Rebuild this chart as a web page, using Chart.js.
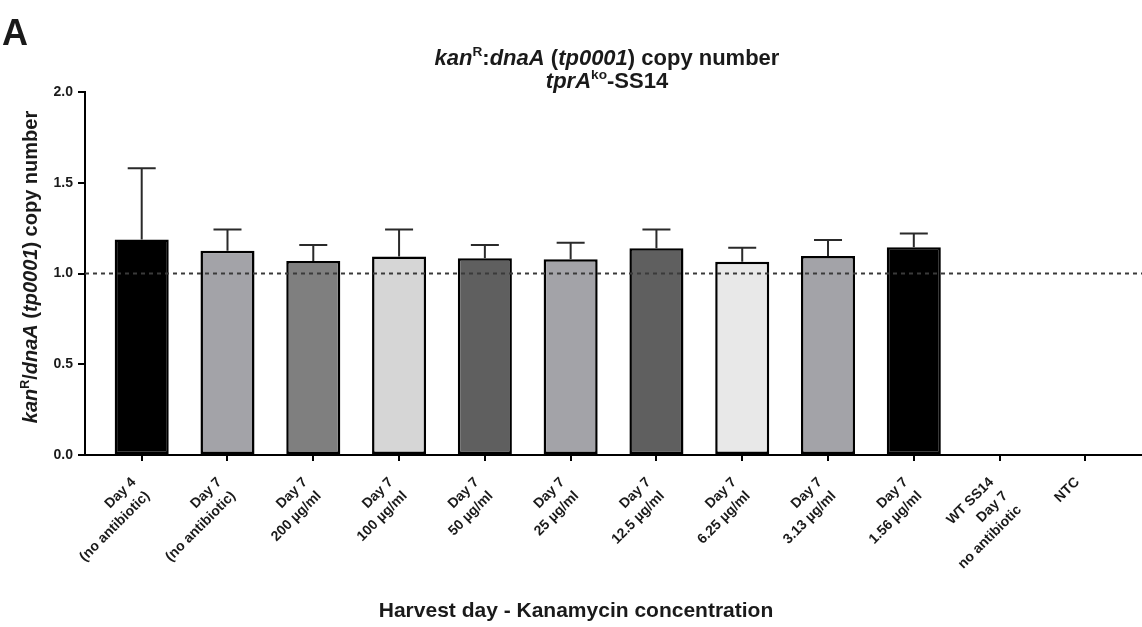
<!DOCTYPE html>
<html>
<head>
<meta charset="utf-8">
<script src="https://cdn.jsdelivr.net/npm/chart.js@4.4.1/dist/chart.umd.min.js"></script>
<style>
    html, body { margin: 0; padding: 0; background: #fff; }
    #wrap { position: relative; width: 1142px; height: 627px; font-family: "Liberation Sans", Arial, sans-serif; color: #1a1a1a; overflow: hidden; }
    #chart { position: absolute; left: 0; top: 0; }
    .txt { position: absolute; font-weight: bold; white-space: nowrap; line-height: 1; }
    .txt sup { font-size: 0.62em; font-style: normal; position: relative; top: -0.1em; }
    #panel { left: 2px; top: 15px; font-size: 36px; }
    #title1 { left: 607px; top: 46px; font-size: 22px; transform: translateX(-50%); }
    #title2 { left: 607px; top: 69px; font-size: 22px; transform: translateX(-50%); }
    #ytitle { left: 30px; top: 267px; font-size: 20px; transform: translate(-50%, -50%) rotate(-90deg); }
    #xtitle { left: 576px; top: 599px; font-size: 21px; transform: translateX(-50%); }
</style>
</head>
<body>
<div id="wrap">
    <canvas id="chart" width="1142" height="627"></canvas>
    <div class="txt" id="panel">A</div>
    <div class="txt" id="title1"><i>kan</i><sup>R</sup>:<i>dnaA</i> (<i>tp0001</i>) copy number</div>
    <div class="txt" id="title2"><i>tprA</i><sup>ko</sup>-SS14</div>
    <div class="txt" id="ytitle"><i>kan</i><sup>R</sup>/<i>dnaA</i> (<i>tp0001</i>) copy number</div>
    <div class="txt" id="xtitle">Harvest day - Kanamycin concentration</div>
</div>
<script>
// groups on the x axis (each entry = lines of the tick label)
const groupLabels = [
    ["Day 4", "(no antibiotic)"],
    ["Day 7", "(no antibiotic)"],
    ["Day 7", "200 µg/ml"],
    ["Day 7", "100 µg/ml"],
    ["Day 7", "50 µg/ml"],
    ["Day 7", "25 µg/ml"],
    ["Day 7", "12.5 µg/ml"],
    ["Day 7", "6.25 µg/ml"],
    ["Day 7", "3.13 µg/ml"],
    ["Day 7", "1.56 µg/ml"],
    ["WT SS14", "Day 7", "no antibiotic"],
    ["NTC"]
];
// mean copy number and upper error (SD)
const copyNumber = [1.188, 1.126, 1.069, 1.093, 1.084, 1.078, 1.139, 1.065, 1.096, 1.144, null, null];
const errorUp    = [0.392, 0.117, 0.088, 0.150, 0.073, 0.092, 0.104, 0.077, 0.089, 0.077, null, null];
const barFills = ['#000000', '#a3a3a8', '#7f7f7f', '#d6d6d6', '#5f5f5f', '#a3a3a8', '#5f5f5f', '#e8e8e8', '#a3a3a8', '#000000', '#ffffff', '#ffffff'];
const yTickValues = [0, 0.5, 1.0, 1.5, 2.0];
const referenceLevel = 1.0;

const textColor = '#1a1a1a';
const fontFamily = '"Liberation Sans", Arial, sans-serif';

// upper error bars with a cap
const errorBarPlugin = {
    id: 'errorBars',
    afterDatasetsDraw(chart) {
        const meta = chart.getDatasetMeta(0);
        const yScale = chart.scales.y;
        const ctx = chart.ctx;
        ctx.save();
        ctx.strokeStyle = '#2a2a2a';
        ctx.lineWidth = 2;
        meta.data.forEach((bar, i) => {
            if (copyNumber[i] == null || errorUp[i] == null) return;
            const yTop = yScale.getPixelForValue(copyNumber[i] + errorUp[i]);
            const yBar = yScale.getPixelForValue(copyNumber[i]);
            ctx.beginPath();
            ctx.moveTo(bar.x, yBar);
            ctx.lineTo(bar.x, yTop);
            ctx.moveTo(bar.x - 14, yTop);
            ctx.lineTo(bar.x + 14, yTop);
            ctx.stroke();
        });
        ctx.restore();
    }
};

// dotted line at copy number = 1
const referenceLinePlugin = {
    id: 'referenceLine',
    afterDatasetsDraw(chart) {
        const area = chart.chartArea;
        const y = chart.scales.y.getPixelForValue(referenceLevel);
        const ctx = chart.ctx;
        ctx.save();
        ctx.strokeStyle = '#3a3a3a';
        ctx.lineWidth = 2;
        ctx.setLineDash([4, 4]);
        ctx.beginPath();
        ctx.moveTo(area.left, y);
        ctx.lineTo(area.right, y);
        ctx.stroke();
        ctx.restore();
    }
};

new Chart(document.getElementById('chart'), {
    type: 'bar',
    data: {
        datasets: [{
            data: copyNumber.map((v, i) => ({ x: i, y: v })),
            backgroundColor: barFills,
            borderColor: '#000',
            borderWidth: 2.5,
            borderSkipped: false,
            barPercentage: 0.63,
            categoryPercentage: 1
        }]
    },
    plugins: [errorBarPlugin, referenceLinePlugin],
    options: {
        responsive: false,
        animation: false,
        layout: { padding: { top: 92, right: 0, left: 0, bottom: 0 } },
        plugins: {
            legend: { display: false },
            tooltip: { enabled: false }
        },
        scales: {
            x: {
                type: 'linear',
                min: -0.661,
                max: 11.66,
                offset: false,
                afterBuildTicks: (scale) => {
                    scale.ticks = groupLabels.map((l, i) => ({ value: i }));
                },
                afterFit: (scale) => { scale.height = 172; },
                grid: { offset: false, drawOnChartArea: false, drawTicks: true, tickLength: 6, color: '#000', lineWidth: 2 },
                border: { display: true, color: '#000', width: 2 },
                ticks: {
                    autoSkip: false,
                    minRotation: 45,
                    maxRotation: 45,
                    padding: 12,
                    labelOffset: -8,
                    color: textColor,
                    font: { family: fontFamily, size: 14, weight: 'bold', lineHeight: 1.4 },
                    callback: (value) => groupLabels[value]
                }
            },
            y: {
                min: 0,
                max: 2,
                afterBuildTicks: (scale) => {
                    scale.ticks = yTickValues.map(v => ({ value: v }));
                },
                afterFit: (scale) => { scale.width = 85; },
                grid: { drawOnChartArea: false, drawTicks: true, tickLength: 7, color: '#000', lineWidth: 2 },
                border: { display: true, color: '#000', width: 2 },
                ticks: {
                    padding: 5,
                    color: textColor,
                    font: { family: fontFamily, size: 14, weight: 'bold' },
                    callback: (value) => value.toFixed(1)
                }
            }
        }
    }
});
</script>
</body>
</html>
